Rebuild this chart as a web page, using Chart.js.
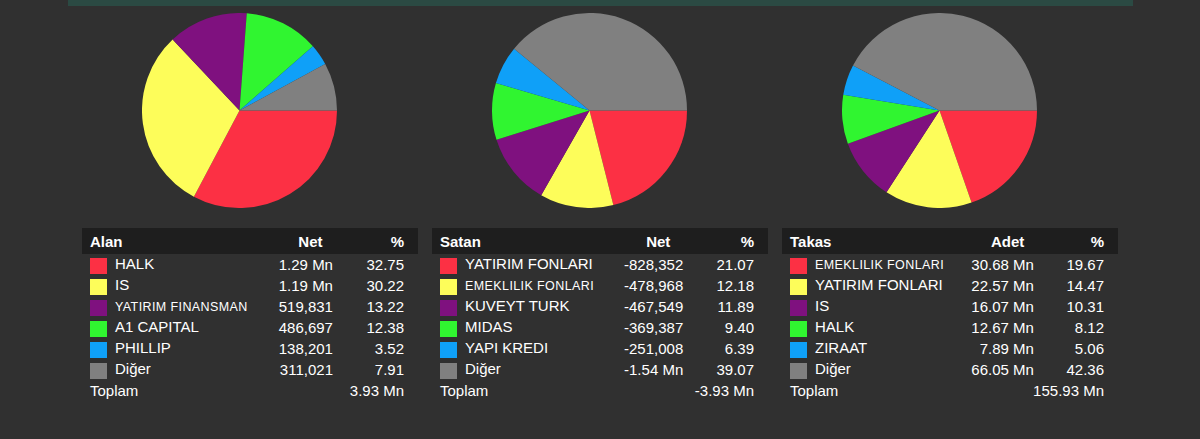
<!DOCTYPE html>
<html><head><meta charset="utf-8">
<script src="https://cdn.jsdelivr.net/npm/chart.js@4"></script>
<style>
body{margin:0;background:#303030;width:1200px;height:439px;overflow:hidden;font-family:"Liberation Sans",Arial,sans-serif;color:#fff;position:relative}
#band{position:absolute;left:68px;top:0;width:1065px;height:6px;background:#2b4a43}
.pie{position:absolute;top:13px;width:195px;height:195px}
table{position:absolute;top:228px;width:336px;border-collapse:collapse;font-size:15px}
th{background:#1e1e1e;height:26px;font-weight:bold;padding:0 8px}
td{height:21px;padding:0 8px;white-space:nowrap}
td.n{text-align:right;padding-right:22px}
td.p{text-align:right;padding-right:14px}
th.p{text-align:right;padding-right:14px}
.sw{display:inline-block;width:17px;height:16px;vertical-align:middle;margin-right:8px}
.sm{font-size:12.5px;letter-spacing:.4px}
</style></head><body>
<div id="band"></div>
<canvas id="c1" class="pie" style="left:142px"></canvas>
<canvas id="c2" class="pie" style="left:492px"></canvas>
<canvas id="c3" class="pie" style="left:842px"></canvas>
<table id="t1" style="left:82px"></table>
<table id="t2" style="left:432px"></table>
<table id="t3" style="left:782px"></table>
<script>
const colors = ['#fc3044', '#fdfd5a', '#7f117f', '#30f530', '#0fa0f8', '#808080'];

const alanNames = ['HALK', 'IS', 'YATIRIM FINANSMAN', 'A1 CAPITAL', 'PHILLIP', 'Diğer'];
const alanNet = ['1.29 Mn', '1.19 Mn', '519,831', '486,697', '138,201', '311,021'];
const alanPct = [32.75, 30.22, 13.22, 12.38, 3.52, 7.91];

const satanNames = ['YATIRIM FONLARI', 'EMEKLILIK FONLARI', 'KUVEYT TURK', 'MIDAS', 'YAPI KREDI', 'Diğer'];
const satanNet = ['-828,352', '-478,968', '-467,549', '-369,387', '-251,008', '-1.54 Mn'];
const satanPct = [21.07, 12.18, 11.89, 9.40, 6.39, 39.07];

const takasNames = ['EMEKLILIK FONLARI', 'YATIRIM FONLARI', 'IS', 'HALK', 'ZIRAAT', 'Diğer'];
const takasAdet = ['30.68 Mn', '22.57 Mn', '16.07 Mn', '12.67 Mn', '7.89 Mn', '66.05 Mn'];
const takasPct = [19.67, 14.47, 10.31, 8.12, 5.06, 42.36];

function makePie(id, values) {
  new Chart(document.getElementById(id), {
    type: 'pie',
    data: { labels: values.map(String), datasets: [{ data: values, backgroundColor: colors, borderWidth: 0 }] },
    options: {
      responsive: false, animation: false, rotation: 90,
      plugins: { legend: { display: false }, tooltip: { enabled: false } }
    }
  });
}

function makeTable(id, title, col, names, nets, pcts, total) {
  let html = `<tr><th style="text-align:left">${title}</th><th style="text-align:center">${col}</th><th class="p">%</th></tr>`;
  names.forEach((n, i) => {
    const cls = n.length > 15 ? 'sm' : '';
    html += `<tr><td><span class="sw" style="background:${colors[i]}"></span><span class="${cls}">${n}</span></td>` +
      `<td class="n">${nets[i]}</td><td class="p">${pcts[i].toFixed(2)}</td></tr>`;
  });
  html += `<tr><td>Toplam</td><td colspan="2" class="p">${total}</td></tr>`;
  document.getElementById(id).innerHTML = html;
}

makePie('c1', alanPct);
makePie('c2', satanPct);
makePie('c3', takasPct);
makeTable('t1', 'Alan', 'Net', alanNames, alanNet, alanPct, '3.93 Mn');
makeTable('t2', 'Satan', 'Net', satanNames, satanNet, satanPct, '-3.93 Mn');
makeTable('t3', 'Takas', 'Adet', takasNames, takasAdet, takasPct, '155.93 Mn');
</script>
</body></html>
